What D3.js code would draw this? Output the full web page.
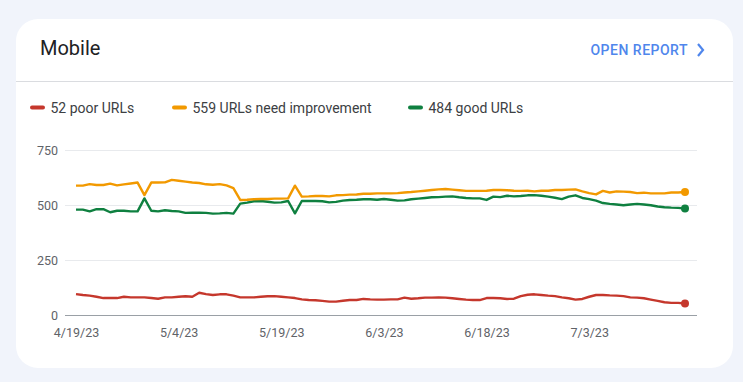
<!DOCTYPE html>
<html>
<head>
<meta charset="utf-8">
<script src="https://cdn.jsdelivr.net/npm/d3@7"></script>
<style>
  html, body { margin: 0; padding: 0; background: #f1f4fb; }
  svg { display: block; font-family: Roboto, "Noto Sans", Arial, sans-serif; }
</style>
</head>
<body>
<svg id="chart" width="743" height="382"></svg>
<script>
const startDate = "2023-04-19";
const seriesNames = ["52 poor URLs", "559 URLs need improvement", "484 good URLs"];
const seriesColors = ["#c5372c", "#f29900", "#0f8040"];
const poor = [95,91,88,83,77,77,77,83,80,80,80,77,74,80,80,83,85,83,101,95,91,94,94,88,80,80,80,83,85,86,83,80,77,71,68,67,64,61,61,65,68,68,73,71,70,70,71,71,79,74,76,79,79,80,79,76,73,70,68,68,77,77,76,73,74,86,92,94,91,88,86,80,76,70,73,83,91,91,89,88,86,80,79,76,70,64,58,55,55,52];
const needsImprovement = [588,588,595,591,591,597,589,594,598,602,545,602,602,603,614,610,606,602,600,594,592,595,589,577,523,524,526,527,527,529,529,530,588,538,539,541,541,539,544,545,547,548,551,551,553,553,553,554,557,559,562,565,568,571,573,570,567,564,564,564,565,568,568,567,565,564,565,562,565,565,568,568,570,571,562,554,548,564,557,562,561,559,554,556,553,553,553,557,557,559];
const good = [479,479,471,481,481,467,474,474,471,471,530,474,471,476,473,471,464,465,465,464,461,462,464,461,506,511,517,518,515,511,512,518,462,518,518,518,517,512,514,520,523,524,526,526,524,527,524,520,521,526,529,532,535,536,538,539,535,532,530,530,523,538,536,542,539,541,544,545,542,538,533,527,538,544,532,527,520,509,505,502,499,502,505,502,499,493,490,488,487,484];
const yTicks = [0, 250, 500, 750];
const xTickDates = ["2023-04-19","2023-05-04","2023-05-19","2023-06-03","2023-06-18","2023-07-03"];

const svg = d3.select("#chart");
const parse = d3.utcParse("%Y-%m-%d");
const start = parse(startDate);
const dates = poor.map((_, i) => d3.utcDay.offset(start, i));
const series = [poor, needsImprovement, good];

// card
svg.append("rect").attr("x", 16).attr("y", 19).attr("width", 717).attr("height", 349)
  .attr("rx", 22).attr("fill", "#ffffff");
svg.append("line").attr("x1", 16).attr("x2", 733).attr("y1", 81.5).attr("y2", 81.5)
  .attr("stroke", "#dadce0").attr("stroke-width", 1);

svg.append("text").attr("x", 40).attr("y", 55).text("Mobile")
  .attr("font-size", 20).attr("fill", "#202124");
svg.append("text").attr("x", 688).attr("y", 55).attr("text-anchor", "end")
  .text("OPEN REPORT").attr("font-size", 14).attr("font-weight", 500)
  .attr("letter-spacing", 0.5).attr("fill", "#4f86ec");
svg.append("path").attr("d", "M698,44 L703,50 L698,56").attr("fill", "none")
  .attr("stroke", "#4f86ec").attr("stroke-width", 2.2);

// legend
const legendX = [32, 174, 410];
seriesNames.forEach((name, i) => {
  svg.append("line").attr("x1", legendX[i]).attr("x2", legendX[i] + 11)
    .attr("y1", 107.5).attr("y2", 107.5).attr("stroke", seriesColors[i])
    .attr("stroke-width", 4).attr("stroke-linecap", "round");
  svg.append("text").attr("x", legendX[i] + 18.5).attr("y", 112.5).text(name)
    .attr("font-size", 14).attr("fill", "#3c4043");
});

// scales
const x = d3.scaleUtc().domain([dates[0], dates[dates.length - 1]]).range([76, 685]);
const y = d3.scaleLinear().domain([0, 750]).range([315, 150]);
const gridLeft = 65, gridRight = 697;

// grid
svg.append("g").selectAll("line").data(yTicks.filter(d => d > 0)).join("line")
  .attr("x1", gridLeft).attr("x2", gridRight)
  .attr("y1", d => y(d) + 0.5).attr("y2", d => y(d) + 0.5)
  .attr("stroke", "#e8eaed");
svg.append("line").attr("x1", gridLeft).attr("x2", gridRight)
  .attr("y1", y(0) + 0.5).attr("y2", y(0) + 0.5).attr("stroke", "#9aa0a6");

// y axis labels
const yAxis = d3.axisLeft(y).tickValues(yTicks).tickSize(0).tickPadding(0);
const yg = svg.append("g").attr("transform", "translate(58,0)").call(yAxis);
yg.select(".domain").remove();
yg.selectAll("text").attr("font-size", 12.5).attr("fill", "#5f6368")
  .attr("font-family", "Roboto, sans-serif");

// x axis
const xAxis = d3.axisBottom(x).tickValues(xTickDates.map(parse))
  .tickFormat(d3.utcFormat("%-m/%-d/%y")).tickSize(0).tickPadding(0);
const xg = svg.append("g").attr("transform", "translate(0,328)").call(xAxis);
xg.select(".domain").remove();
xg.selectAll("text").attr("font-size", 12.5).attr("fill", "#5f6368")
  .attr("font-family", "Roboto, sans-serif");

const line = d3.line().x((d, i) => x(dates[i])).y(d => y(d));
[2, 1, 0].forEach(k => {
  svg.append("path").datum(series[k]).attr("d", line)
    .attr("fill", "none").attr("stroke", seriesColors[k]).attr("stroke-width", 2.4)
    .attr("stroke-linejoin", "round");
  const last = series[k].length - 1;
  svg.append("circle").attr("cx", x(dates[last])).attr("cy", y(series[k][last]))
    .attr("r", 4).attr("fill", seriesColors[k]);
});
</script>
</body>
</html>
